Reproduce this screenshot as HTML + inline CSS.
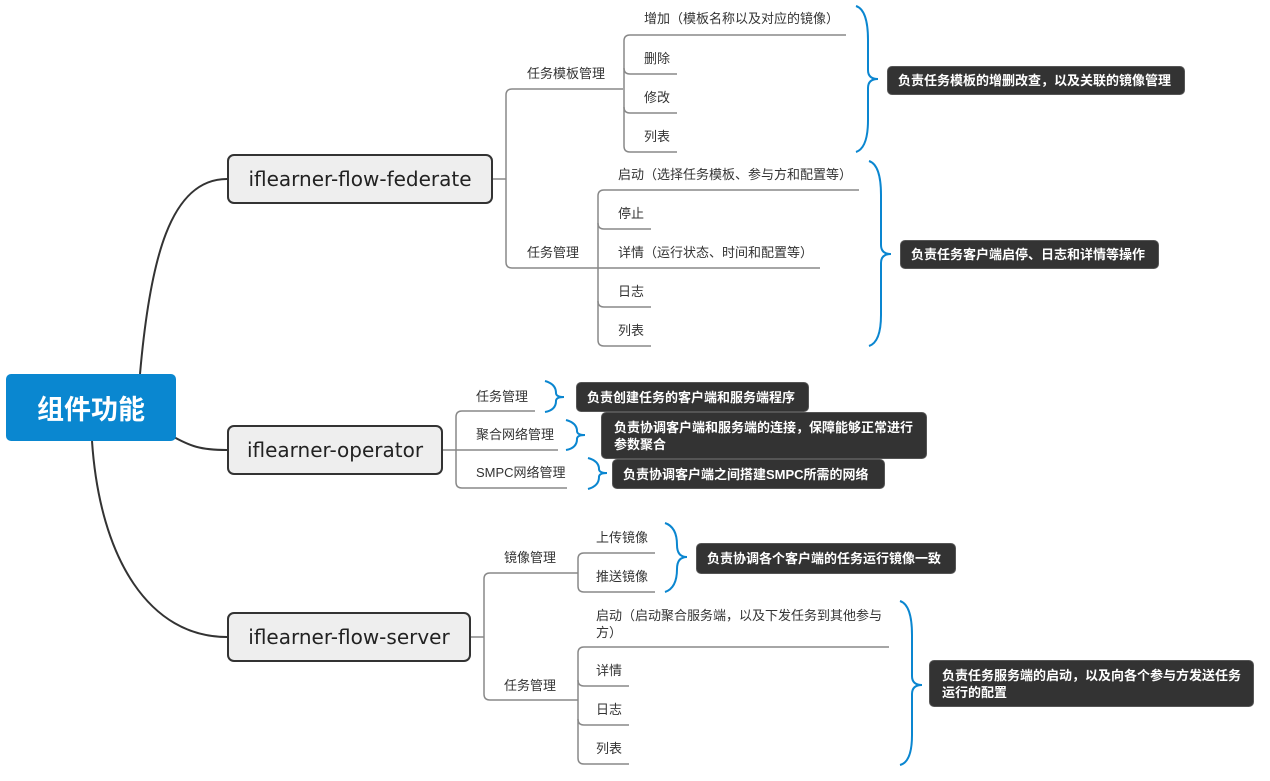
<!DOCTYPE html>
<html><head><meta charset="utf-8"><style>
body{margin:0;width:1270px;height:781px;background:#fff;position:relative;overflow:hidden;font-family:"Liberation Sans","Noto Sans CJK SC",sans-serif;}
.t{position:absolute;font-size:13px;color:#333;white-space:nowrap;line-height:16px;}
.b{position:absolute;box-sizing:border-box;background:#eee;border:2px solid #333;border-radius:7px;font-size:20px;color:#222;display:flex;align-items:center;justify-content:center;font-family:"DejaVu Sans","Liberation Sans",sans-serif;}
.n{position:absolute;box-sizing:border-box;background:#333;border:1px solid #555;border-radius:5px;color:#fff;font-weight:bold;font-size:13px;line-height:17px;padding:0 10px;display:flex;align-items:center;}
.s{white-space:nowrap;}
svg{position:absolute;left:0;top:0;}
</style></head><body>
<svg width="1270" height="781" fill="none">
<g stroke="#333" stroke-width="2">
<path d="M140 374 C150 260 170 179 227 179"/>
<path d="M172 436 C190 446 200 450 227 450"/>
<path d="M92 441 C100 560 150 637 227 637"/>
</g>
<g stroke="#888" stroke-width="1.5">
<path d="M493 179 H506"/>
<path d="M623 89 H512 Q506 89 506 95 V262 Q506 268 512 268 H820"/>
<path d="M846 35 H630 Q624 35 624 41 V146 Q624 152 630 152 H677"/>
<path d="M624 68 Q624 74 630 74 H677"/>
<path d="M624 107 Q624 113 630 113 H677"/>
<path d="M859 190 H604 Q598 190 598 196 V340 Q598 346 604 346 H651"/>
<path d="M598 223 Q598 229 604 229 H651"/>
<path d="M598 301 Q598 307 604 307 H651"/>
<path d="M443 450 H558"/>
<path d="M535 411 H462 Q456 411 456 417 V482 Q456 488 462 488 H567"/>
<path d="M471 637 H484"/>
<path d="M578 573 H490 Q484 573 484 579 V694 Q484 700 490 700 H578"/>
<path d="M655 553 H584 Q578 553 578 559 V586 Q578 592 584 592 H655"/>
<path d="M889 647 H584 Q578 647 578 653 V758 Q578 764 584 764 H629"/>
<path d="M578 680 Q578 686 584 686 H629"/>
<path d="M578 719 Q578 725 584 725 H629"/>
</g>
<g stroke="#0a86d0" stroke-width="2">
<path d="M856 6 Q868 10 868 40 V70 Q868 79 878 79 Q868 79 868 88 V120 Q868 148 856 152"/>
<path d="M869 161 Q881 165 881 195 V245 Q881 254 891 254 Q881 254 881 263 V315 Q881 342 869 346"/>
<path d="M545 381 Q556 384 556 393 Q556 397 564 397 Q556 397 556 401 Q556 410 545 412"/>
<path d="M566 420 Q577 423 577 431 Q577 435 585 435 Q577 435 577 439 Q577 448 566 450"/>
<path d="M588 458 Q599 461 599 469 Q599 473 607 473 Q599 473 599 477 Q599 486 588 489"/>
<path d="M665 523 Q677 527 677 545 Q677 557 687 557 Q677 557 677 569 Q677 588 665 592"/>
<path d="M900 601 Q912 605 912 635 V676 Q912 685 922 685 Q912 685 912 694 V735 Q912 762 900 765"/>
</g>
</svg>
<div style="position:absolute;left:6px;top:374px;width:170px;height:67px;background:#0a87d0;border-radius:5px;color:#fff;font-weight:bold;font-size:27px;display:flex;align-items:center;justify-content:center;font-family:'Liberation Sans','Noto Sans CJK SC',sans-serif;">组件功能</div>
<div class="b" style="left:227px;top:154px;width:266px;height:50px;">iflearner-flow-federate</div>
<div class="b" style="left:227px;top:425px;width:216px;height:50px;">iflearner-operator</div>
<div class="b" style="left:227px;top:612px;width:244px;height:50px;">iflearner-flow-server</div>

<div class="t" style="left:527px;top:66px">任务模板管理</div>
<div class="t" style="left:527px;top:245px">任务管理</div>
<div class="t" style="left:644px;top:11px">增加（模板名称以及对应的镜像）</div>
<div class="t" style="left:644px;top:51px">删除</div>
<div class="t" style="left:644px;top:90px">修改</div>
<div class="t" style="left:644px;top:129px">列表</div>
<div class="t" style="left:618px;top:167px">启动（选择任务模板、参与方和配置等）</div>
<div class="t" style="left:618px;top:206px">停止</div>
<div class="t" style="left:618px;top:245px">详情（运行状态、时间和配置等）</div>
<div class="t" style="left:618px;top:284px">日志</div>
<div class="t" style="left:618px;top:323px">列表</div>

<div class="t" style="left:476px;top:389px">任务管理</div>
<div class="t" style="left:476px;top:427px">聚合网络管理</div>
<div class="t" style="left:476px;top:465px">SMPC网络管理</div>

<div class="t" style="left:504px;top:550px">镜像管理</div>
<div class="t" style="left:504px;top:678px">任务管理</div>
<div class="t" style="left:596px;top:530px">上传镜像</div>
<div class="t" style="left:596px;top:569px">推送镜像</div>
<div class="t" style="left:596px;top:607px;line-height:17px">启动（启动聚合服务端，以及下发任务到其他参与<br>方）</div>
<div class="t" style="left:596px;top:663px">详情</div>
<div class="t" style="left:596px;top:702px">日志</div>
<div class="t" style="left:596px;top:741px">列表</div>

<div class="n s" style="left:887px;top:66px;width:298px;height:29px;">负责任务模板的增删改查，以及关联的镜像管理</div>
<div class="n s" style="left:900px;top:240px;width:259px;height:29px;">负责任务客户端启停、日志和详情等操作</div>
<div class="n s" style="left:576px;top:382px;width:233px;height:30px;">负责创建任务的客户端和服务端程序</div>
<div class="n" style="left:601px;top:412px;width:326px;height:47px;padding:0 12px;">负责协调客户端和服务端的连接，保障能够正常进行参数聚合</div>
<div class="n s" style="left:612px;top:459px;width:273px;height:30px;">负责协调客户端之间搭建SMPC所需的网络</div>
<div class="n s" style="left:696px;top:543px;width:260px;height:31px;">负责协调各个客户端的任务运行镜像一致</div>
<div class="n" style="left:929px;top:660px;width:325px;height:47px;padding:0 12px;">负责任务服务端的启动，以及向各个参与方发送任务运行的配置</div>
</body></html>
